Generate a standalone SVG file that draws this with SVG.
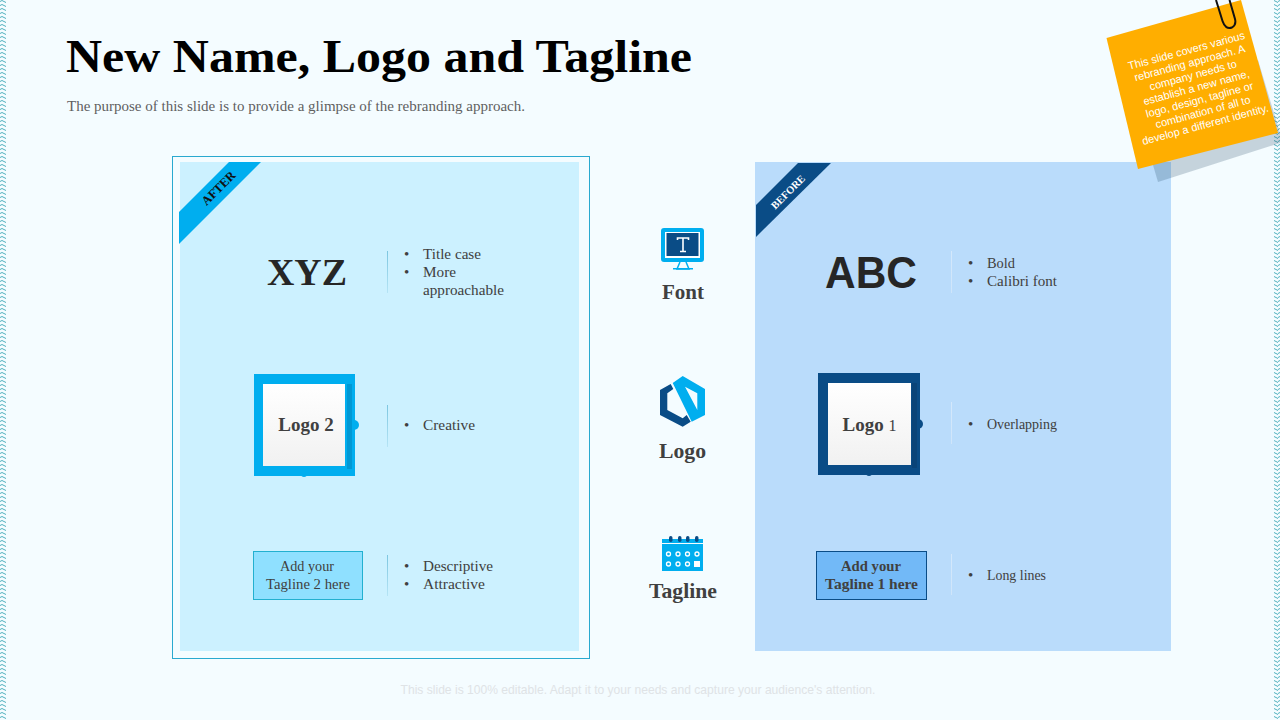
<svg xmlns="http://www.w3.org/2000/svg" width="1280" height="720" viewBox="0 0 1280 720">
<style>
.s{font-family:"Liberation Serif","Times New Roman",serif}
.a{font-family:"Liberation Sans",Arial,sans-serif}
.b{font-size:15px;fill:#404040}
.h{font-size:21px;font-weight:bold;fill:#404040;text-anchor:middle}
.t{font-size:14px;fill:#404040}
.n{font-size:11px;fill:#fff;text-anchor:middle}
.r{font-weight:bold;text-anchor:middle}
</style>
<defs>
<pattern id="edge" width="6" height="8" patternUnits="userSpaceOnUse">
<path d="M0 1.500L2 0.500L4 1.500L6 2.500M0 5.500L2 4.500L4 5.500L6 6.500" fill="none" stroke="#4fb0bd" stroke-width="1"/>
</pattern>
<linearGradient id="w" x1="0" y1="0" x2="0" y2="1"><stop offset="0" stop-color="#fff"/><stop offset="1" stop-color="#f1f1f1"/></linearGradient>
<linearGradient id="vl" x1="0" y1="0" x2="0" y2="1"><stop offset="0" stop-color="#7cc6e0"/><stop offset="1" stop-color="#b5e4f5"/></linearGradient>
<linearGradient id="vr" x1="0" y1="0" x2="0" y2="1"><stop offset="0" stop-color="#d4e8fb"/><stop offset="1" stop-color="#cfe5fa"/></linearGradient>
</defs>
<rect width="1280" height="720" fill="#f4fcff"/>
<rect x="0" y="0" width="6" height="720" fill="url(#edge)"/>
<rect x="1274" y="0" width="6" height="720" fill="url(#edge)"/>

<g id="title">
<text class="s" x="66" y="72" font-size="46" font-weight="bold" fill="#000" textLength="626" lengthAdjust="spacingAndGlyphs">New Name, Logo and Tagline</text>
<text class="s" x="67" y="111" font-size="14.5" fill="#5f5f5f" textLength="458" lengthAdjust="spacingAndGlyphs">The purpose of this slide is to provide a glimpse of the rebranding approach.</text>
</g>

<g id="panel-after">
<rect x="172.500" y="156.500" width="417" height="502" fill="none" stroke="#2aa9cf" stroke-width="1"/>
<rect x="180" y="162" width="399" height="489" fill="#ccf1ff"/>
<polygon points="229,162 261,162 179,244 179,212" fill="#00aeef"/>
<text class="s r" font-size="12.500" fill="#111" transform="translate(221.500,191) rotate(-45)">AFTER</text>
</g>
<g id="panel-before">
<rect x="755" y="162" width="416" height="489" fill="#badcfb"/>
<polygon points="798,163 831,163 756,237 756,205" fill="#0a4c86"/>
<text class="s r" font-size="10.500" fill="#fff" transform="translate(790.500,194.500) rotate(-45)">BEFORE</text>
</g>

<g id="font-after">
<text class="s" x="307" y="285" font-size="37" font-weight="bold" fill="#262626" text-anchor="middle" textLength="80" lengthAdjust="spacingAndGlyphs">XYZ</text>
<rect x="387" y="251" width="1" height="42" fill="url(#vl)"/>
<text class="s b" x="404" y="259">•</text><text class="s b" x="423" y="259" textLength="58" lengthAdjust="spacingAndGlyphs">Title case</text>
<text class="s b" x="404" y="277">•</text><text class="s b" x="423" y="277" textLength="33" lengthAdjust="spacingAndGlyphs">More</text>
<text class="s b" x="423" y="295" textLength="81" lengthAdjust="spacingAndGlyphs">approachable</text>
</g>
<g id="logo-after">
<circle cx="354" cy="425" r="5" fill="#00aeef"/>
<circle cx="304" cy="474" r="3" fill="#00aeef"/>
<rect x="254" y="374" width="101" height="102" fill="#00aeef"/>
<rect x="347" y="384" width="5" height="85" fill="#0098d4"/>
<rect x="263" y="384" width="82" height="82" fill="url(#w)"/>
<text class="s" x="306" y="431" font-size="19" font-weight="bold" fill="#404040" text-anchor="middle">Logo 2</text>
<rect x="387" y="405" width="1" height="42" fill="url(#vl)"/>
<text class="s b" x="404" y="430">•</text><text class="s b" x="423" y="430" textLength="52" lengthAdjust="spacingAndGlyphs">Creative</text>
</g>
<g id="tagline-after">
<rect x="253.500" y="551.500" width="109" height="48" fill="#8fe0ff" stroke="#22b0d0"/>
<text class="s t" x="280" y="571" textLength="54" lengthAdjust="spacingAndGlyphs">Add your</text>
<text class="s t" x="266" y="589" textLength="84" lengthAdjust="spacingAndGlyphs">Tagline 2 here</text>
<rect x="387" y="555" width="1" height="41" fill="url(#vl)"/>
<text class="s b" x="404" y="571">•</text><text class="s b" x="423" y="571" textLength="70" lengthAdjust="spacingAndGlyphs">Descriptive</text>
<text class="s b" x="404" y="589">•</text><text class="s b" x="423" y="589" textLength="62" lengthAdjust="spacingAndGlyphs">Attractive</text>
</g>

<g id="font-icon">
<rect x="661" y="228" width="43" height="34" rx="3" fill="#00aeef"/>
<rect x="665" y="232" width="35" height="26" fill="#fff"/>
<rect x="666.500" y="233" width="32" height="23" fill="#0a4c86"/>
<path d="M677.500 240V238H688.500V240M683 238V251.500M680 251.500H686" fill="none" stroke="#fff" stroke-width="1.600"/>
<path d="M680 262L677 269H689L686 262" fill="none" stroke="#00aeef" stroke-width="1.500"/>
<rect x="673" y="268" width="20" height="1.500" fill="#00aeef"/>
<text class="s h" x="683" y="299">Font</text>
</g>
<g id="logo-icon">
<polygon points="670.700,384 660,390 660,415 682.700,426.700 690.700,421.700 686.700,415 682.700,418.300 667.300,410 667.300,393.300 673.300,389" fill="#0a4c86"/>
<path d="M672.700 383L682.700 376L705 389V415L691.700 421.700ZM685 386.700L697.300 393.300V410Z" fill="#00aeef" fill-rule="evenodd"/>
<text class="s h" x="682.500" y="458" textLength="47" lengthAdjust="spacingAndGlyphs">Logo</text>
</g>
<g id="tagline-icon">
<rect x="662" y="539" width="41" height="32" fill="#00aeef"/>
<rect x="662" y="543" width="41" height="1" fill="#f4fcff"/>
<g fill="#0a4c86"><rect x="669" y="536" width="3.500" height="6" rx="1.700"/><rect x="678" y="536" width="3.500" height="6" rx="1.700"/><rect x="686" y="536" width="3.500" height="6" rx="1.700"/><rect x="695" y="536" width="3.500" height="6" rx="1.700"/></g>
<g fill="none" stroke="#fff" stroke-width="1.300"><circle cx="668.500" cy="554" r="2"/><circle cx="678" cy="554" r="2"/><circle cx="687.500" cy="554" r="2"/><circle cx="697" cy="554" r="2"/><circle cx="668.500" cy="564" r="2"/><circle cx="678" cy="564" r="2"/><circle cx="687.500" cy="564" r="2"/></g>
<rect x="694" y="561" width="6" height="6" fill="#fff"/>
<text class="s h" x="683" y="598" textLength="68" lengthAdjust="spacingAndGlyphs">Tagline</text>
</g>

<g id="font-before">
<text class="a" x="871" y="288" font-size="45" font-weight="bold" fill="#262626" text-anchor="middle" textLength="92" lengthAdjust="spacingAndGlyphs">ABC</text>
<rect x="951" y="251" width="1" height="42" fill="url(#vr)"/>
<text class="s b" x="968" y="268">•</text><text class="s b" x="987" y="268" textLength="28" lengthAdjust="spacingAndGlyphs">Bold</text>
<text class="s b" x="968" y="286">•</text><text class="s b" x="987" y="286" textLength="70" lengthAdjust="spacingAndGlyphs">Calibri font</text>
</g>
<g id="logo-before">
<circle cx="918" cy="424" r="5" fill="#0a4c86"/>
<circle cx="869" cy="473" r="3" fill="#0a4c86"/>
<rect x="818" y="373" width="102" height="102" fill="#0a4c86"/>
<rect x="912" y="383" width="5" height="85" fill="#0a4478"/>
<rect x="828" y="383" width="83" height="82" fill="url(#w)"/>
<text class="s" x="869.500" y="431" font-size="19" fill="#404040" text-anchor="middle" font-weight="bold">Logo <tspan font-weight="normal" font-size="16">1</tspan></text>
<rect x="951" y="402" width="1" height="42" fill="url(#vr)"/>
<text class="s b" x="968" y="429">•</text><text class="s b" x="987" y="429" textLength="70" lengthAdjust="spacingAndGlyphs">Overlapping</text>
</g>
<g id="tagline-before">
<rect x="816.500" y="551.500" width="110" height="48" fill="#72b9f7" stroke="#0a4c86"/>
<text class="s t" font-weight="bold" x="841" y="571" textLength="60" lengthAdjust="spacingAndGlyphs">Add your</text>
<text class="s t" font-weight="bold" x="825" y="589" textLength="93" lengthAdjust="spacingAndGlyphs">Tagline 1 here</text>
<rect x="951" y="554" width="1" height="41" fill="url(#vr)"/>
<text class="s b" x="968" y="580">•</text><text class="s b" x="987" y="580" textLength="59" lengthAdjust="spacingAndGlyphs">Long lines</text>
</g>

<g id="note">
<polygon points="1153,165 1158,182 1280,143 1280,133 1258,60" fill="#0a3050" fill-opacity="0.2"/>
<polygon points="1106.500,38 1241,0 1278,133 1138,169" fill="#ffae00"/>
<path d="M1216 0L1222.500 21Q1225.500 30 1232 27.500Q1236.500 25 1235 19L1229.500 0" fill="none" stroke="#111" stroke-width="2"/>
<text class="a n" transform="translate(1197,90) rotate(-15)"><tspan x="0" y="-37">This slide covers various</tspan><tspan x="0" y="-24.300">rebranding approach. A</tspan><tspan x="0" y="-11.600">company needs to</tspan><tspan x="0" y="1.100">establish a new name,</tspan><tspan x="0" y="13.800">logo, design, tagline or</tspan><tspan x="0" y="26.500">combination of all to</tspan><tspan x="-1" y="39.200">develop a different identity.</tspan></text>
</g>

<text id="footer" class="a" x="638" y="694" font-size="12.100" fill="#dfe3e6" text-anchor="middle">This slide is 100% editable. Adapt it to your needs and capture your audience's attention.</text>
</svg>
